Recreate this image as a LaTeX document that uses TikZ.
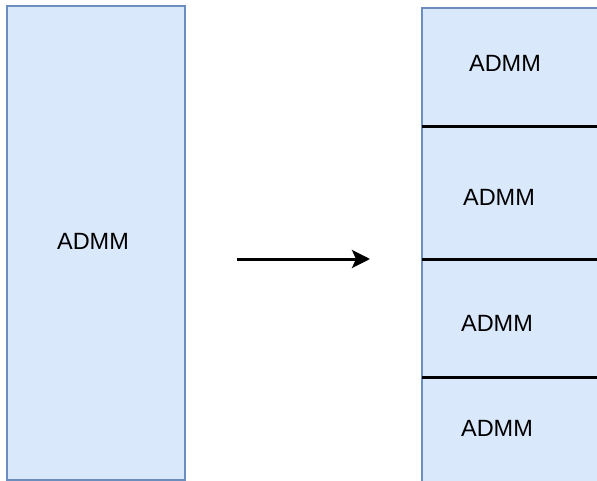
\documentclass[tikz,border=0pt]{standalone}
\usepackage{fontspec}
\setmainfont{Liberation Sans}
\usepackage{xcolor}
\usepackage{tikz}
\usetikzlibrary{arrows.meta}
\usetikzlibrary{positioning}

\definecolor{admmfill}{HTML}{DAE8FC}
\definecolor{admmedge}{HTML}{6C8EBF}

\begin{document}
\begin{tikzpicture}[x=1pt,y=-1pt,semithick]
	\tikzstyle{block}=[draw=admmedge, fill=admmfill, line width=2pt, minimum width=178pt, inner sep=0pt, outer sep=0pt]
	\tikzstyle{split}=[draw=black, line width=3pt]
	\tikzstyle{flow}=[-{Stealth[length=18pt,width=18pt,inset=4pt]}, line width=3pt]
	\tikzstyle{tag}=[font=\fontsize{23.5}{28}\selectfont, inner sep=0pt]
	\useasboundingbox (0,0) rectangle (597,481);
	\clip (0,0) rectangle (597,481);

	% one big block on the left
	\node[block, minimum height=474pt, anchor=north west] (whole) at (7,6) {};
	\node[tag] (whole text) at (93,241) {ADMM};

	% the same block cut into four parts
	\node[block, minimum height=119pt, anchor=north west] (part1) at (422,8) {};
	\node[block, minimum height=132pt, below=0pt of part1] (part2) {};
	\node[block, minimum height=118pt, below=0pt of part2] (part3) {};
	\node[block, minimum height=110pt, below=0pt of part3] (part4) {};

		\foreach \p in {part1,part2,part3}{
			\draw[split] (\p.south west) -- (\p.south east);
			}
		\foreach \p/\x/\y in {part1/505/63, part2/499/197, part3/497/323, part4/497/428}{
			\node[tag] (\p text) at (\x,\y) {ADMM};
			}

	\coordinate (from) at (237,259);
	\coordinate (to) at (370,259);
	\draw[flow] (from) -- (to);
\end{tikzpicture}
\end{document}
